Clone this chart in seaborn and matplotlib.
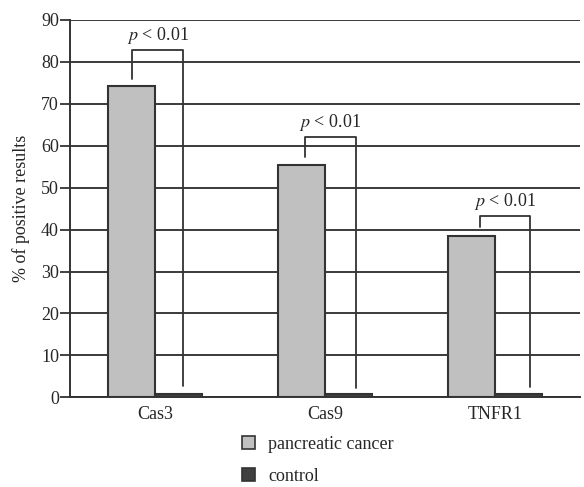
import matplotlib
matplotlib.use("Agg")
import matplotlib.pyplot as plt
import seaborn as sns
import pandas as pd
from matplotlib.patches import Patch

categories = ["Cas3", "Cas9", "TNFR1"]
pancreatic = [74.3, 55.4, 38.4]
control = [0.7, 0.7, 0.8]
series_names = ["pancreatic cancer", "control"]
yticks = [0, 10, 20, 30, 40, 50, 60, 70, 80, 90]
bracket_top = [82.7, 62.1, 43.2]
bracket_left_bottom = [75.8, 57.2, 40.7]
bracket_right_bottom = [2.8, 2.2, 2.4]

sns.set_style("white")
plt.rcParams['font.family'] = ['Liberation Serif', 'DejaVu Serif']
plt.rcParams['mathtext.fontset'] = 'stix'

df = pd.DataFrame({
    "gene": categories * 2,
    "value": pancreatic + control,
    "group": [series_names[0]] * 3 + [series_names[1]] * 3,
})

fig = plt.figure(figsize=(5.84, 4.87), dpi=100)
ax = fig.add_axes([0.12, 0.184, 0.873, 0.7755])

sns.barplot(data=df, x="gene", y="value", hue="group", order=categories,
            hue_order=series_names, palette=["#c0c0c0", "#404040"],
            width=0.555, edgecolor="#333333", linewidth=1.5, ax=ax,
            legend=False, zorder=3, errorbar=None)

fs = 13
ax.set_ylim(0, 90)
ax.set_xlim(-0.5, 2.5)
ax.set_yticks(yticks)
ax.set_yticklabels([str(t) for t in yticks], fontsize=fs)
ax.yaxis.grid(True, color="#3a3a3a", linewidth=1.4)
ax.set_axisbelow(True)
ax.set_xlabel("")
ax.set_ylabel("% of positive results", fontsize=fs, labelpad=8)
ax.tick_params(axis="y", length=7, width=1.3, color="#333333", left=True, pad=1)
ax.tick_params(axis="x", length=0, labelsize=fs, pad=6)
for s in ["top", "right"]:
    ax.spines[s].set_visible(False)
for s in ["left", "bottom"]:
    ax.spines[s].set_color("#333333")
    ax.spines[s].set_linewidth(1.4)

left_off = [-0.135, -0.12, -0.09]
right_off = [0.165, 0.18, 0.205]
for i in range(len(categories)):
    xl = i + left_off[i]
    xr = i + right_off[i]
    ax.plot([xl, xl, xr, xr],
            [bracket_left_bottom[i], bracket_top[i], bracket_top[i], bracket_right_bottom[i]],
            color="#333333", linewidth=1.3, zorder=4)
    ax.text((xl + xr) / 2, bracket_top[i] + 1.0, r"$p$ < 0.01", ha="center", va="bottom",
            fontsize=fs, zorder=5)

handles = [Patch(facecolor="#c0c0c0", edgecolor="#333333", linewidth=1.2),
           Patch(facecolor="#404040", edgecolor="#333333", linewidth=1.2)]
fig.legend(handles, series_names, loc="upper left", bbox_to_anchor=(0.4015, 0.12),
           frameon=False, fontsize=fs, handlelength=0.75, handleheight=0.75,
           labelspacing=0.85, handletextpad=0.7, borderaxespad=0)

fig.savefig("out.png", dpi=100)
